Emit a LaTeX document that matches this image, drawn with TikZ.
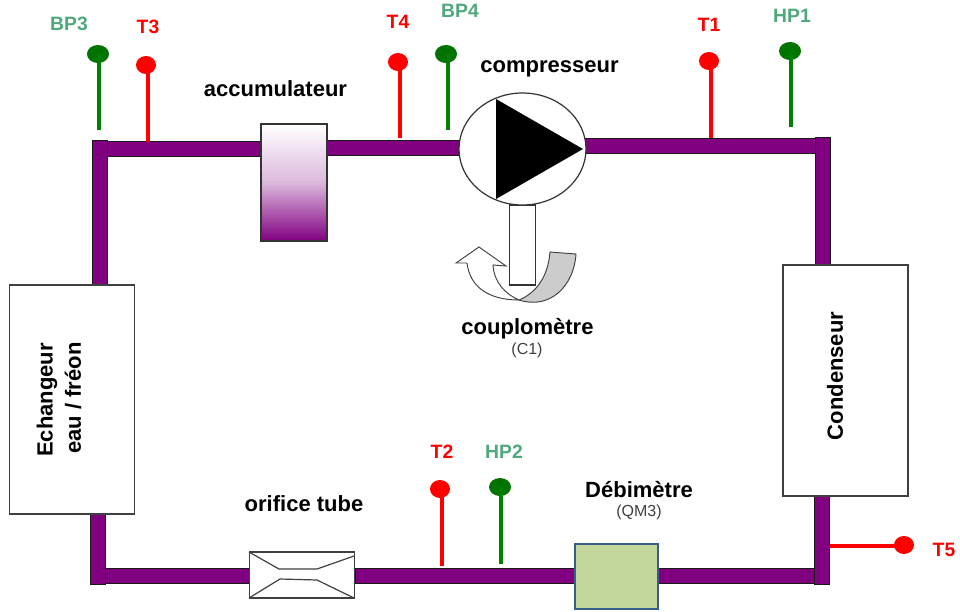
\documentclass[tikz,border=0pt]{standalone}
\usepackage{fontspec}
\setmainfont{Liberation Sans}
\usetikzlibrary{shapes.geometric}
\definecolor{pipe}{HTML}{800080}
\definecolor{lblgreen}{HTML}{4FA97C}
\definecolor{stemgreen}{HTML}{008000}
\definecolor{redc}{HTML}{FF0000}
\definecolor{flow}{HTML}{C3D69B}
\definecolor{flowb}{HTML}{385D8A}
\tikzset{
 pipeline/.style={line width=12pt,draw=black!90,line cap=butt,shorten <=-0.4pt,shorten >=-0.4pt},
 pipefill/.style={line width=10.5pt,draw=pipe,line cap=butt},
 box/.style={draw=black!75,line width=0.9pt,fill=white},
 lab/.style={font=\fontsize{16.5}{18}\selectfont\bfseries,text=black,inner sep=0pt},
 sub/.style={font=\fontsize{12}{14}\selectfont,text=black!75,inner sep=0pt},
 sg/.style={font=\fontsize{14.5}{16}\selectfont\bfseries,text=lblgreen,inner sep=0pt},
 sr/.style={font=\fontsize{14.5}{16}\selectfont\bfseries,text=redc,inner sep=0pt},
 stemg/.style={draw=stemgreen,line width=3pt},
 stemr/.style={draw=redc,line width=3pt},
 ballg/.style={ellipse,fill=stemgreen!90!black,minimum width=16.5pt,minimum height=13.5pt,inner sep=0pt},
 ballr/.style={ellipse,fill=redc,minimum width=15pt,minimum height=13.5pt,inner sep=0pt},
}
\newcommand{\pipeseg}[2]{\draw[pipeline] (#1) -- (#2); \draw[pipefill] (#1) -- (#2);}
\begin{document}
\begin{tikzpicture}[x=0.75pt,y=-0.75pt]
\useasboundingbox (0,0) rectangle (960,611);
\fill[white] (0,0) rectangle (960,611);
% pipe coordinates
\coordinate (tlt) at (100,141);
\coordinate (tl) at (108,149);
\coordinate (tlb) at (100,285);
\coordinate (acl) at (261,149);
\coordinate (acr) at (327,147.5);
\coordinate (cpl) at (459,147.5);
\coordinate (cpr) at (586,146);
\coordinate (tr) at (816,146);
\coordinate (trt) at (823,138);
\coordinate (trb) at (823,265);
\coordinate (rb) at (822,496);
\coordinate (rbb) at (822,584);
\coordinate (br) at (817,576);
\coordinate (fr) at (658,576);
\coordinate (fl) at (575,576);
\coordinate (or) at (356,576);
\coordinate (ol) at (250,576);
\coordinate (bl) at (105,576);
\coordinate (lbb) at (98,584);
\coordinate (lb) at (98,514);
\pipeseg{tl}{acl}
\pipeseg{acr}{cpl}
\pipeseg{cpr}{tr}
\pipeseg{br}{fr}
\pipeseg{fl}{or}
\pipeseg{ol}{bl}
\pipeseg{tlt}{tlb}
\pipeseg{trt}{trb}
\pipeseg{rb}{rbb}
\pipeseg{lb}{lbb}
% sensors
\node[ballg] (bp3) at (98,54) {};
\coordinate (bp3e) at (99,130);
\draw[stemg] (bp3e|-bp3) -- (bp3e);
\node[ballr] (t3) at (146,65) {};
\coordinate (t3e) at (148,142);
\draw[stemr] (t3e|-t3) -- (t3e);
\node[ballr] (t4) at (398,62) {};
\coordinate (t4e) at (400,138);
\draw[stemr] (t4e|-t4) -- (t4e);
\node[ballg] (bp4) at (446,54) {};
\coordinate (bp4e) at (448,130);
\draw[stemg] (bp4e|-bp4) -- (bp4e);
\node[ballr] (t1) at (709,61) {};
\coordinate (t1e) at (711,138);
\draw[stemr] (t1e|-t1) -- (t1e);
\node[ballg] (hp1) at (790,51) {};
\coordinate (hp1e) at (791,127);
\draw[stemg] (hp1e|-hp1) -- (hp1e);
\node[ballr] (t2) at (440,489) {};
\coordinate (t2e) at (442,566);
\draw[stemr] (t2e|-t2) -- (t2e);
\node[ballg] (hp2) at (500,487) {};
\coordinate (hp2e) at (501,564);
\draw[stemg] (hp2e|-hp2) -- (hp2e);
\node[ballr] (t5) at (904,545) {};
\coordinate (t5e) at (830,546);
\draw[stemr] (t5) ++(0,1) -- (t5e);
% components
\node[draw=black!80,line width=0.9pt,top color=white,bottom color=pipe,middle color=pipe!28!white,minimum width=49.5pt,minimum height=87.75pt,inner sep=0pt] (acc) at (294,182.5) {};
\node[box,minimum width=93.75pt,minimum height=171.75pt,inner sep=0pt] (ech) at (72,399.5) {};
\node[box,minimum width=93.75pt,minimum height=173.25pt,inner sep=0pt] (cond) at (845.5,380.5) {};
\node[draw=flowb,line width=1.5pt,fill=flow,minimum width=62.25pt,minimum height=48.75pt,inner sep=0pt] (deb) at (616.5,576.5) {};
\node[box,minimum width=78.75pt,minimum height=34.5pt,inner sep=0pt] (orif) at (302,575) {};
\draw[draw=black!75,line width=0.9pt] (249,552) -- (279,569) -- (317,569) -- (354,556);
\draw[draw=black!75,line width=0.9pt] (249,598) -- (280,579) -- (317,580) -- (354,598);
% couplometre
\draw[draw=black!75,line width=0.7pt,fill=white] (519,300) .. controls (490,300) and (470,288) .. (467,263) -- (456,263) -- (479,247) -- (506,266) -- (493,265) .. controls (494,282) and (505,294) .. (519,300) -- cycle;
\node[draw=black!80,line width=0.9pt,fill=white,minimum width=20pt,minimum height=60pt,inner sep=0pt] (shaft) at (522.5,245) {};
\draw[draw=black!75,line width=0.7pt,fill=black!20] (519,300) .. controls (536,293) and (548,277) .. (550,252) -- (576,254) .. controls (574,286) and (550,310) .. (519,300) -- cycle;
\node[draw=black!80,line width=0.9pt,fill=white,ellipse,minimum width=95.25pt,minimum height=84pt,inner sep=0pt] (comp) at (522.5,149) {};
\fill[black] (496,99) -- (496,199) -- (583,149) -- cycle;
% labels
\node[sg] at (69,24) {BP3};
\node[sr] at (148,27) {T3};
\node[sr] at (398,22) {T4};
\node[sg] at (460,11) {BP4};
\node[sr] at (709,25) {T1};
\node[sg] at (792,16) {HP1};
\node[sr] at (442,452) {T2};
\node[sg] at (504,452) {HP2};
\node[sr] at (944,550) {T5};
\node[lab] at (275.5,89) {accumulateur};
\node[lab] at (549.5,69) {compresseur};
\node[lab] at (527.5,329) {couplomètre};
\node[sub] at (527,350) {(C1)};
\node[lab] at (304,504) {orifice tube};
\node[lab] at (639,490) {Débimètre};
\node[sub] at (639,512) {(QM3)};
\node[lab,rotate=90] at (47,400) {Echangeur};
\node[lab,rotate=90] at (73,398) {eau / fréon};
\node[lab,rotate=90] at (835,376) {Condenseur};
\end{tikzpicture}
\end{document}
